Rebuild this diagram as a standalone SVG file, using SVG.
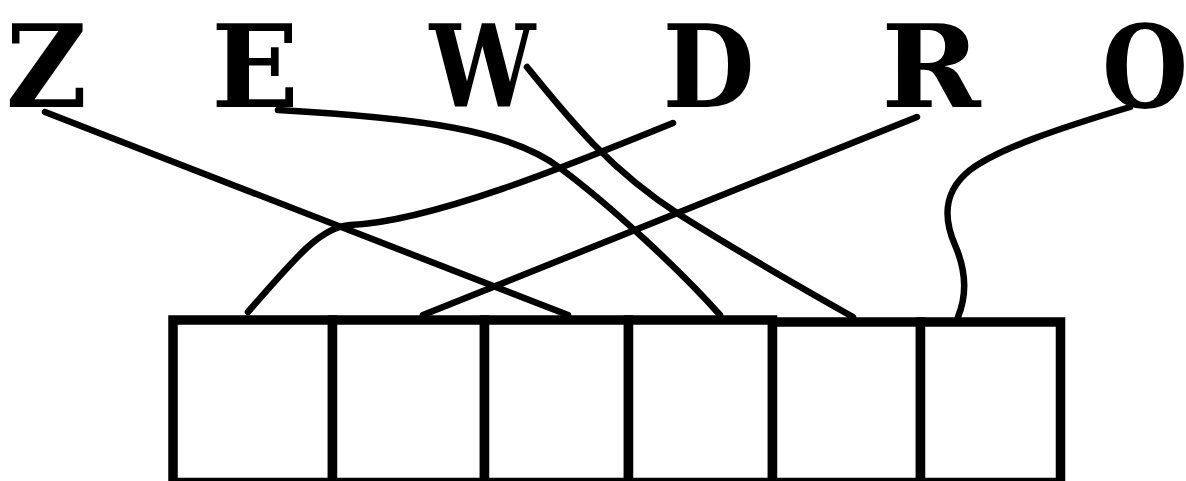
<svg xmlns="http://www.w3.org/2000/svg" width="1186" height="481" viewBox="0 0 1186 481">
<style>
.lt{font-family:"DejaVu Serif","Liberation Serif",serif;font-weight:bold;font-size:115px;fill:#000;text-anchor:middle}
.bx{fill:#fff;stroke:#000;stroke-width:9.5}
.cn{fill:none;stroke:#000;stroke-width:6.5;stroke-linecap:round;stroke-linejoin:round}
</style>
<rect width="1186" height="481" fill="#fff"/>
<g id="letter-Z"><text class="lt" transform="translate(46.5,107) scale(0.97,1)" x="0" y="0">Z</text></g>
<g id="letter-E"><text class="lt" transform="translate(255,107) scale(1,1)" x="0" y="0">E</text></g>
<g id="letter-W"><text class="lt" transform="translate(482.5,107) scale(0.82,1)" x="0" y="0">W</text></g>
<g id="letter-D"><text class="lt" transform="translate(708.5,107) scale(0.925,1)" x="0" y="0">D</text></g>
<g id="letter-R"><text class="lt" transform="translate(931,107) scale(1.04,1)" x="0" y="0">R</text></g>
<g id="letter-O"><text class="lt" transform="translate(1145,107) scale(0.86,1)" x="0" y="0">O</text></g>
<g id="box-1"><rect class="bx" x="173" y="320" width="159.5" height="162.5"/></g>
<g id="box-2"><rect class="bx" x="332.5" y="320" width="152" height="162.5"/></g>
<g id="box-3"><rect class="bx" x="484.5" y="320" width="144" height="162.5"/></g>
<g id="box-4"><rect class="bx" x="628.5" y="320" width="144" height="162.5"/></g>
<g id="box-5"><rect class="bx" x="772.5" y="322" width="148" height="160.5"/></g>
<g id="box-6"><rect class="bx" x="920.5" y="322" width="140" height="160.5"/></g>
<g id="connectors">
<path class="cn" d="M45,112 L568,315"/>
<path class="cn" d="M278,110 C420,118 510,130 560,168 C610,205 680,270 720,315"/>
<path class="cn" d="M527,67 C570,120 610,170 680,215 C740,253 800,287 853,317"/>
<path class="cn" d="M673,123 C570,165 430,222 350,225 C322,227 300,252 248,312"/>
<path class="cn" d="M917,117 L423,315"/>
<path class="cn" d="M1130,107 C1060,128 1000,148 970,170 C945,190 942,215 955,245 C968,275 965,300 958,317"/>
</g>
</svg>
